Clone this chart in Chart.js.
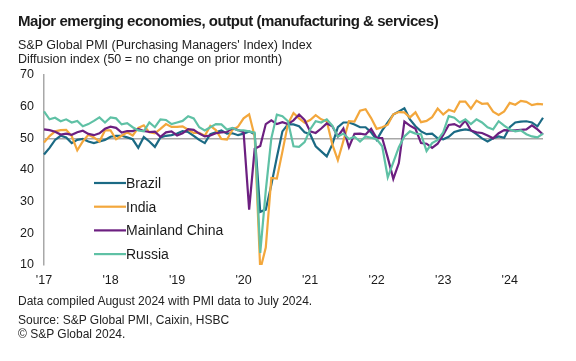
<!DOCTYPE html>
<html>
<head>
<meta charset="utf-8">
<script src="https://cdn.jsdelivr.net/npm/chart.js@4.4.1/dist/chart.umd.min.js"></script>
<style>
    html, body { margin: 0; padding: 0; background: #fff; }
    body { width: 576px; height: 361px; position: relative; overflow: hidden; font-family: "Liberation Sans", Arial, sans-serif; color: #1a1a1a; }
    #chartBox { position: absolute; left: 0; top: 0; width: 576px; height: 361px; }
    .txt { position: absolute; left: 18px; white-space: nowrap; }
    .title { top: 12px; font-size: 15px; font-weight: bold; letter-spacing: -0.45px; }
    .sub { font-size: 12.5px; color: #222; }
    .foot { font-size: 12px; color: #222; }
</style>
</head>
<body>
<div id="chartBox"><canvas id="pmiChart" width="576" height="361"></canvas></div>
<div class="txt title">Major emerging economies, output (manufacturing &amp; services)</div>
<div class="txt sub" style="top:38px">S&amp;P Global PMI (Purchasing Managers' Index) Index</div>
<div class="txt sub" style="top:52px">Diffusion index (50 = no change on prior month)</div>
<div class="txt foot" style="top:294px">Data compiled August 2024 with PMI data to July 2024.</div>
<div class="txt foot" style="top:313px">Source: S&amp;P Global PMI, Caixin, HSBC</div>
<div class="txt foot" style="top:327px">© S&amp;P Global 2024.</div>

<script>
// DATA (monthly, Jan 2017 - Jul 2024)
const YEARS = [2017, 2018, 2019, 2020, 2021, 2022, 2023, 2024];
const YEAR_TICKS = ["'17", "'18", "'19", "'20", "'21", "'22", "'23", "'24"];
const MONTHS_LAST_YEAR = 7;

const brazil = [
    44.9, 47.0, 49.5, 50.8, 50.3, 48.5, 49.5, 49.8, 49.0, 48.5, 49.0, 49.5,
    50.5, 50.8, 50.8, 50.3, 49.7, 47.0, 50.4, 49.0, 47.3, 50.3, 50.8, 51.0,
    51.5, 52.3, 52.0, 50.8, 49.5, 48.5, 51.3, 51.9, 52.5, 51.5, 51.6, 51.0,
    51.5, 52.2, 51.3, 26.8, 27.5, 35.3, 44.0, 52.2, 54.4, 54.4, 53.8, 51.9,
    51.3, 47.5, 45.9, 44.3, 48.1, 53.5, 55.0, 55.0, 54.4, 53.5, 53.5, 51.9,
    49.5, 52.5, 55.0, 57.5, 58.5, 59.5, 56.0, 53.8, 52.2, 51.3, 51.5, 50.0,
    49.7, 50.5, 52.0, 52.5, 52.8, 52.5, 51.3, 50.0, 49.0, 50.0, 50.6, 50.2,
    53.5, 55.0, 55.3, 55.4, 55.0, 53.8, 56.5
];

const india = [
    48.7, 50.7, 52.2, 52.6, 52.7, 50.7, 46.2, 49.0, 51.1, 50.3, 49.0, 52.5,
    52.5, 49.7, 50.8, 51.9, 50.9, 53.3, 54.1, 51.9, 51.6, 53.0, 54.5, 53.6,
    53.6, 53.8, 52.7, 51.7, 51.7, 50.8, 53.9, 52.6, 49.8, 49.6, 52.7, 53.7,
    56.3, 57.6, 50.6, 8.5, 15.5, 37.5, 37.3, 45.8, 54.6, 58.0, 56.3, 54.9,
    55.8, 57.3, 56.0, 55.4, 48.1, 43.1, 49.2, 55.4, 55.3, 58.7, 59.2, 56.4,
    53.0, 53.5, 54.3, 57.6, 58.3, 58.2, 56.6, 58.2, 55.1, 55.5, 56.7, 59.4,
    57.5, 59.0, 58.4, 61.6, 61.6, 59.4, 61.9, 60.9, 61.0, 58.4, 57.4, 58.5,
    61.2, 60.6, 61.8, 61.5, 60.5, 60.9, 60.7
];

const china = [
    52.8, 52.6, 52.1, 51.2, 51.5, 51.1, 51.9, 52.4, 51.4, 51.0, 51.6, 53.0,
    53.7, 53.3, 51.8, 52.3, 52.3, 53.0, 52.3, 52.0, 52.1, 50.5, 51.9, 52.2,
    50.9, 51.6, 52.9, 52.7, 51.5, 50.6, 50.9, 51.6, 51.9, 52.0, 53.2, 52.6,
    51.9, 27.5, 46.7, 47.6, 54.5, 55.7, 54.5, 55.1, 54.5, 55.7, 57.5, 55.8,
    52.2, 51.7, 53.1, 54.7, 53.8, 50.6, 53.1, 47.2, 51.4, 51.5, 51.2, 53.0,
    50.1, 50.1, 43.9, 37.2, 42.2, 55.3, 54.0, 53.0, 48.5, 48.3, 47.0, 48.3,
    51.1, 54.2, 54.5, 53.6, 55.6, 52.5, 51.9, 51.7, 50.9, 50.0, 51.6, 52.6,
    52.5, 52.5, 52.7, 52.8, 54.1, 52.8, 51.2
];

const russia = [
    58.5, 56.0, 56.5, 55.4, 56.0, 55.0, 55.5, 53.8, 54.5, 55.5, 56.6, 55.0,
    56.6, 56.3, 54.4, 54.8, 53.5, 52.5, 52.2, 55.0, 53.5, 56.0, 55.8, 54.5,
    55.0, 55.5, 57.0, 56.3, 53.5, 52.5, 53.5, 54.5, 54.4, 52.8, 53.3, 52.5,
    52.5, 52.2, 51.8, 13.8, 33.5, 50.0, 57.5, 57.0, 55.4, 47.5, 47.3, 48.8,
    52.8, 55.4, 55.0, 56.0, 54.0, 50.6, 51.5, 49.8, 50.5, 49.0, 50.6, 50.2,
    49.7, 47.5, 37.7, 42.4, 47.2, 50.6, 52.2, 51.5, 51.3, 46.0, 48.5, 49.5,
    51.9, 57.0, 56.5, 55.0, 56.0, 54.5, 56.0, 55.0, 53.5, 52.8, 55.4, 54.0,
    52.8, 52.2, 52.5, 51.3, 50.6, 50.3, 51.5
];

const SERIES = [
    { label: "Brazil",         data: brazil, color: "#1b6a84", order: 4 },
    { label: "India",          data: india,  color: "#f3a73c", order: 3 },
    { label: "Mainland China", data: china,  color: "#6c1f80", order: 2 },
    { label: "Russia",         data: russia, color: "#5fc1a5", order: 1 }
];

// CATEGORY LABELS (one per month)
const monthLabels = [];
YEARS.forEach((y, i) => {
    const n = (i === YEARS.length - 1) ? MONTHS_LAST_YEAR : 12;
    for (let m = 0; m < n; m++) monthLabels.push(y + "-" + String(m + 1).padStart(2, "0"));
});

// LEGEND INSIDE THE PLOT
const insideLegend = {
    id: "insideLegend",
    afterDraw(chart) {
        const ctx = chart.ctx;
        const area = chart.chartArea;
        const x0 = area.left + 50;
        let y = area.top + 108;
        ctx.save();
        ctx.font = "14px 'Liberation Sans', Arial, sans-serif";
        ctx.textBaseline = "middle";
        chart.data.datasets.forEach(ds => {
            ctx.strokeStyle = ds.borderColor;
            ctx.lineWidth = 2.2;
            ctx.beginPath();
            ctx.moveTo(x0, y);
            ctx.lineTo(x0 + 32, y);
            ctx.stroke();
            ctx.fillStyle = "#1a1a1a";
            ctx.fillText(ds.label, x0 + 32, y + 1);
            y += 23.7;
        });
        ctx.restore();
    }
};

// CHART
function initChart() {
    const ctx = document.getElementById("pmiChart").getContext("2d");
    new Chart(ctx, {
        type: "line",
        data: {
            labels: monthLabels,
            datasets: SERIES.map(s => ({
                label: s.label,
                data: s.data,
                borderColor: s.color,
                backgroundColor: s.color,
                borderWidth: 2.2,
                pointRadius: 0,
                tension: 0,
                order: s.order
            }))
        },
        options: {
            responsive: false,
            animation: false,
            devicePixelRatio: 1,
            layout: { padding: { left: 0, right: 33, top: 75, bottom: 71 } },
            plugins: {
                legend: { display: false },
                tooltip: { enabled: false }
            },
            scales: {
                x: {
                    type: "category",
                    offset: false,
                    grid: { display: false, drawTicks: false },
                    border: { display: false },
                    afterFit: scale => { scale.height = 25; },
                    ticks: {
                        autoSkip: false,
                        maxRotation: 0,
                        padding: 8,
                        color: "#1a1a1a",
                        font: { family: "'Liberation Sans', Arial, sans-serif", size: 12.5 },
                        callback: (val, i) => (i % 12 === 0 ? YEAR_TICKS[i / 12] : "")
                    }
                },
                y: {
                    min: 10,
                    max: 70,
                    afterFit: scale => { scale.width = 44; },
                    grid: {
                        drawTicks: false,
                        lineWidth: 1.5,
                        color: c => (c.tick && c.tick.value === 50 ? "#a8a8a8" : "rgba(0,0,0,0)")
                    },
                    border: { display: true, color: "#a8a8a8", width: 1.5 },
                    ticks: {
                        stepSize: 10,
                        padding: 10,
                        color: "#1a1a1a",
                        font: { family: "'Liberation Sans', Arial, sans-serif", size: 12.5 }
                    }
                }
            }
        },
        plugins: [insideLegend]
    });
}

document.addEventListener("DOMContentLoaded", initChart);
</script>
</body>
</html>
